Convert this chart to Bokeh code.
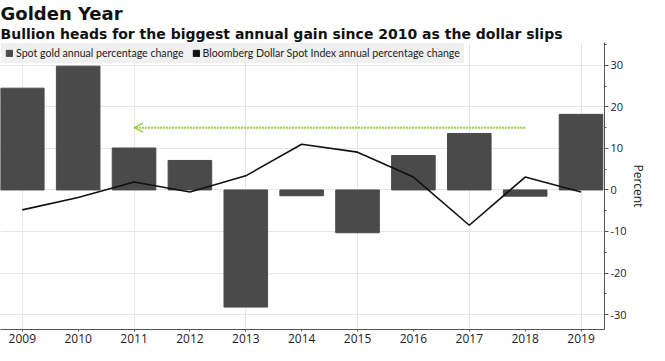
from bokeh.plotting import figure
from bokeh.models import (Range1d, FixedTicker, Title, Legend, LegendItem, Arrow,
                          OpenHead)
from bokeh.embed import file_html
from bokeh.resources import INLINE

# ---- data ----
years = [2009, 2010, 2011, 2012, 2013, 2014, 2015, 2016, 2017, 2018, 2019]
gold_change = [24.5, 29.8, 10.1, 7.1, -28.2, -1.4, -10.3, 8.3, 13.6, -1.5, 18.2]
dollar_change = [-4.8, -1.8, 1.9, -0.5, 3.4, 11.0, 9.1, 3.1, -8.5, 3.1, -0.5]
y_ticks = [-30, -20, -10, 0, 10, 20, 30]
y_tick_labels = ["-30", "-20", "-10", "0", "10", "20", "30"]
y_minor_ticks = [-30, -25, -20, -15, -10, -5, 0, 5, 10, 15, 20, 25, 30, 35]
grid_years = [2009, 2011, 2013, 2015, 2017, 2019]
arrow_years = [2018, 2011]
arrow_level = 15

title_text = "Golden Year"
subtitle_text = "Bullion heads for the biggest annual gain since 2010 as the dollar slips"
gold_label = "Spot gold annual percentage change"
dollar_label = "Bloomberg Dollar Spot Index annual percentage change"

BAR = "#4a4a4a"
GRID = "#e6e6e6"
AXIS = "#555555"
TXT = "#222222"

p = figure(width=649, height=345,
           x_range=Range1d(2008.61, 2019.42), y_range=Range1d(-33.6, 35.5),
           y_axis_location="right", output_backend="svg", toolbar_location=None,
           title=title_text,
           min_border_left=0, min_border_right=0, min_border_top=0, min_border_bottom=0)
p.outline_line_color = None
p.background_fill_color = "white"

p.title.text_font = "DejaVu Sans"
p.title.text_font_style = "bold"
p.title.text_font_size = "18px"
p.title.text_color = "#111111"
p.title.standoff = 0
p.add_layout(Title(text=subtitle_text, text_font="DejaVu Sans", text_font_style="bold",
                   text_font_size="14px", text_color="#111111", standoff=1), "above")

# grids
p.xgrid.ticker = FixedTicker(ticks=grid_years)
p.ygrid.ticker = FixedTicker(ticks=y_ticks)
p.xgrid.grid_line_color = GRID
p.ygrid.grid_line_color = GRID

# axes
p.yaxis.ticker = FixedTicker(ticks=y_ticks, minor_ticks=y_minor_ticks)
p.yaxis.major_label_overrides = dict(zip(y_ticks, y_tick_labels))
p.yaxis.axis_label = "Percent"
p.yaxis.axis_label_text_font = "Open Sans"
p.yaxis.axis_label_text_font_style = "normal"
p.yaxis.axis_label_text_font_size = "12px"
p.yaxis.axis_label_text_color = TXT
p.yaxis.axis_label_standoff = 0
p.yaxis.major_tick_in = 0
p.yaxis.major_tick_out = 4
p.yaxis.minor_tick_in = 0
p.yaxis.minor_tick_out = 2
p.yaxis.minor_tick_line_color = AXIS
p.yaxis.major_label_text_font_size = "11px"

p.xaxis.ticker = FixedTicker(ticks=years)
p.xaxis.major_tick_in = 0
p.xaxis.major_tick_out = 2
p.xaxis.minor_tick_line_color = None
p.xaxis.major_label_text_font_size = "12px"

for ax in (p.xaxis[0], p.yaxis[0]):
    ax.axis_line_color = AXIS
    ax.major_tick_line_color = AXIS
    ax.major_label_text_font = "Open Sans"
    ax.major_label_text_color = TXT
    ax.major_label_standoff = 2

# data marks
bars = p.vbar(x=years, top=gold_change, bottom=0, width=0.78,
              fill_color=BAR, line_color=BAR)
line = p.line(x=years, y=dollar_change, line_color="#111111", line_width=1.6)
dollar_key = p.vbar(x=years, top=dollar_change, bottom=0, width=0.78,
                    fill_color="#111111", line_color="#111111", visible=False)

# highlight arrow
p.add_layout(Arrow(x_start=arrow_years[0], y_start=arrow_level,
                   x_end=arrow_years[1], y_end=arrow_level,
                   line_color="#9ccc3c", line_width=2, line_dash="2 1",
                   end=OpenHead(size=9, line_color="#9ccc3c", line_width=1.5)))

legend = Legend(items=[LegendItem(label=gold_label, renderers=[bars]),
                       LegendItem(label=dollar_label, renderers=[dollar_key])],
                location="top_left", orientation="horizontal",
                margin=1, padding=4, spacing=8,
                glyph_width=8, glyph_height=8, label_standoff=3,
                label_text_font="Lato", label_text_font_size="10.6px",
                label_text_color=TXT, label_height=10,
                background_fill_color="#eeeeee", background_fill_alpha=0.9,
                border_line_alpha=0, inactive_fill_alpha=0,
                click_policy="none")
p.add_layout(legend)

open("out.html", "w").write(file_html(p, INLINE))
